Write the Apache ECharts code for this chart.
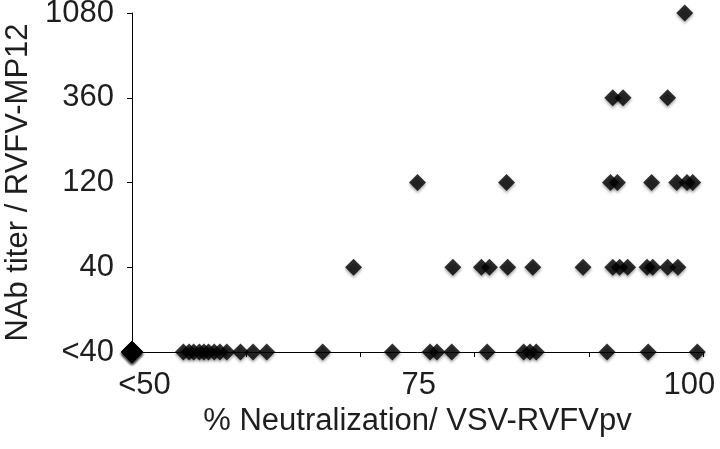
<!DOCTYPE html>
<html>
<head>
<meta charset="utf-8">
<script src="https://cdn.jsdelivr.net/npm/echarts@6/dist/echarts.min.js"></script>
<style>html,body{margin:0;padding:0;background:#fff}#c{width:720px;height:449px}</style>
</head>
<body>
<div id="c"></div>
<script>
// Titer categories (y) and tick labels
var yTickLabels = ['<40', '40', '120', '360', '1080'];
// % neutralization values per titer group
var xLt40 = [50, 50, 50, 50, 50, 54.5, 55.0, 55.4, 55.9, 56.3, 56.7, 57.2, 57.7, 58.3, 59.5, 60.6, 61.8, 66.7, 72.8, 76.1, 76.7, 78.0, 81.1, 84.3, 84.85, 85.4, 91.6, 95.2, 99.5];
var x40 = [69.4, 78.1, 80.6, 81.3, 82.9, 85.1, 89.5, 92.1, 92.7, 93.4, 95.1, 95.6, 96.9, 97.8];
var x120 = [75.0, 82.8, 91.9, 92.5, 95.5, 97.7, 98.6, 99.1];
var x360 = [92.1, 93.0, 96.9];
var x1080 = [98.4];
// x tick label texts and the axis values where the original places them
var xTickLabels = ['<50', '75', '100'];
var xTickLabelAt = [51.1, 75.1, 98.8];

var groups = [xLt40, x40, x120, x360, x1080];
var data = [];
groups.forEach(function (arr, yi) {
  arr.forEach(function (x) { data.push([x, yi]); });
});

var chart = echarts.init(document.getElementById('c'));
var txt = '#1e1e1e';
var font = 'Liberation Sans, Arial, sans-serif';
var fs = 31;
chart.setOption({
  animation: false,
  grid: {left: 132, right: 17, top: 13, bottom: 97, containLabel: false, outerBoundsMode: 'none'},
  xAxis: [{
    type: 'value', min: 50, max: 100, interval: 10,
    axisLine: {show: true, lineStyle: {color: '#000', width: 1}},
    axisTick: {show: true, inside: false, length: 5, lineStyle: {color: '#000'}},
    axisLabel: {show: false},
    splitLine: {show: false}
  }, {
    type: 'value', min: 50, max: 100, position: 'bottom',
    axisLine: {show: false}, axisTick: {show: false}, splitLine: {show: false},
    axisLabel: {show: true, margin: 18, fontSize: fs, color: txt, fontFamily: font,
      customValues: xTickLabelAt,
      showMinLabel: true, showMaxLabel: true,
      formatter: function (v) {
        var i = xTickLabelAt.indexOf(v);
        return i >= 0 ? xTickLabels[i] : '';
      }},
    name: '% Neutralization/ VSV-RVFVpv', nameLocation: 'middle', nameGap: 46,
    nameTextStyle: {fontSize: fs, color: txt, fontFamily: font}
  }],
  yAxis: {
    type: 'value', min: 0, max: 4, interval: 1,
    axisLine: {show: true, lineStyle: {color: '#000', width: 1}},
    axisTick: {show: true, inside: false, length: 5, lineStyle: {color: '#000'}},
    splitLine: {show: false},
    axisLabel: {margin: 18, fontSize: fs, color: txt, fontFamily: font,
      formatter: function (v) { return yTickLabels[v] || ''; }},
    name: 'NAb titer / RVFV-MP12', nameLocation: 'middle', nameGap: 97,
    nameTextStyle: {fontSize: fs, color: txt, fontFamily: font}
  },
  series: [{
    type: 'scatter',
    xAxisIndex: 0,
    symbol: 'diamond',
    clip: false,
    symbolSize: function (v) { return v[0] === 50 ? 22 : 17; },
    itemStyle: {color: '#000', shadowBlur: 3, shadowOffsetY: 2, shadowOffsetX: 0, shadowColor: 'rgba(0,0,0,0.45)'},
    data: data
  }]
});
</script>
</body>
</html>
